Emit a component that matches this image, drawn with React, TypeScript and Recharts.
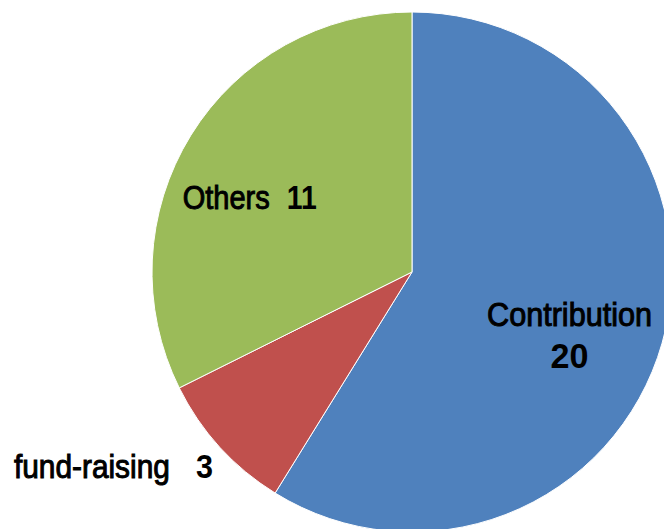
import React from "react";
import { PieChart, Pie, Cell } from "recharts";

const NAMES = ["Contribution", "fund-raising", "Others"];
const VALUES = [20, 3, 11];
const COLORS = ["#4F81BD", "#C0504D", "#9BBB59"];

const data = NAMES.map((name, i) => ({ name, value: VALUES[i] }));

const RADIAN = Math.PI / 180;
const FONT = "'Liberation Sans', Arial, sans-serif";

// label placement per slice: radius factor, nudges, and text widths
const LABEL_POS = [
  { k: 0.65, dx: -5, dy: 8, nameW: 165, numW: 38, gap: 0 },
  { k: 1.2, dx: -68, dy: -4, nameW: 156, numW: 17, gap: 26 },
  { k: 0.68, dx: -12, dy: 30.5, nameW: 87, numW: 30, gap: 17 },
];

let ctx: CanvasRenderingContext2D | null = null;
function measure(text: string, size: number, weight: number) {
  if (!ctx) ctx = document.createElement("canvas").getContext("2d");
  if (!ctx) return text.length * size * 0.55;
  ctx.font = `${weight} ${size}px ${FONT}`;
  return ctx.measureText(text).width;
}

// condensed text: natural glyphs squeezed horizontally to a target width
function Squeezed({ x, y, width, size, weight, text, thicken = 0 }: any) {
  const sx = width / measure(text, size, weight);
  return (
    <g transform={`translate(${x},${y}) scale(${sx},1)`}>
      <text
        x={0}
        y={0}
        fontFamily={FONT}
        fontSize={size}
        fontWeight={weight}
        fill="#000"
        stroke={thicken ? "#000" : "none"}
        strokeWidth={thicken}
      >
        {text}
      </text>
    </g>
  );
}

function renderLabel(props: any) {
  const { cx, cy, midAngle, outerRadius, index, name, value } = props;
  const p = LABEL_POS[index];
  const r = outerRadius * p.k;
  const x = cx + r * Math.cos(-midAngle * RADIAN) + p.dx;
  const y = cy + r * Math.sin(-midAngle * RADIAN) + p.dy;

  const stacked = index === 0;
  const nameX = stacked ? x - p.nameW / 2 : x - (p.nameW + p.gap + p.numW) / 2;
  const numX = stacked ? x - p.numW / 2 : nameX + p.nameW + p.gap;
  const numY = stacked ? y + 42 : y;

  return (
    <g>
      <Squeezed
        x={nameX}
        y={y}
        width={p.nameW}
        size={33}
        weight={400}
        thicken={1}
        text={String(name)}
      />
      <Squeezed
        x={numX}
        y={numY}
        width={p.numW}
        size={stacked ? 36 : 34}
        weight={700}
        text={String(value)}
      />
    </g>
  );
}

export default function App() {
  return (
    <div
      style={{
        position: "absolute",
        left: 0,
        top: 0,
        width: 664,
        height: 529,
        overflow: "hidden",
        background: "#fff",
      }}
    >
      <PieChart width={664} height={529} margin={{ top: 0, right: 0, bottom: 0, left: 0 }}>
        <Pie
          data={data}
          dataKey="value"
          nameKey="name"
          cx={412}
          cy={272}
          outerRadius={260}
          startAngle={90}
          endAngle={-270}
          stroke="#fff"
          strokeWidth={1}
          label={renderLabel}
          labelLine={false}
          isAnimationActive={false}
        >
          {data.map((_, i) => (
            <Cell key={i} fill={COLORS[i]} />
          ))}
        </Pie>
      </PieChart>
    </div>
  );
}
